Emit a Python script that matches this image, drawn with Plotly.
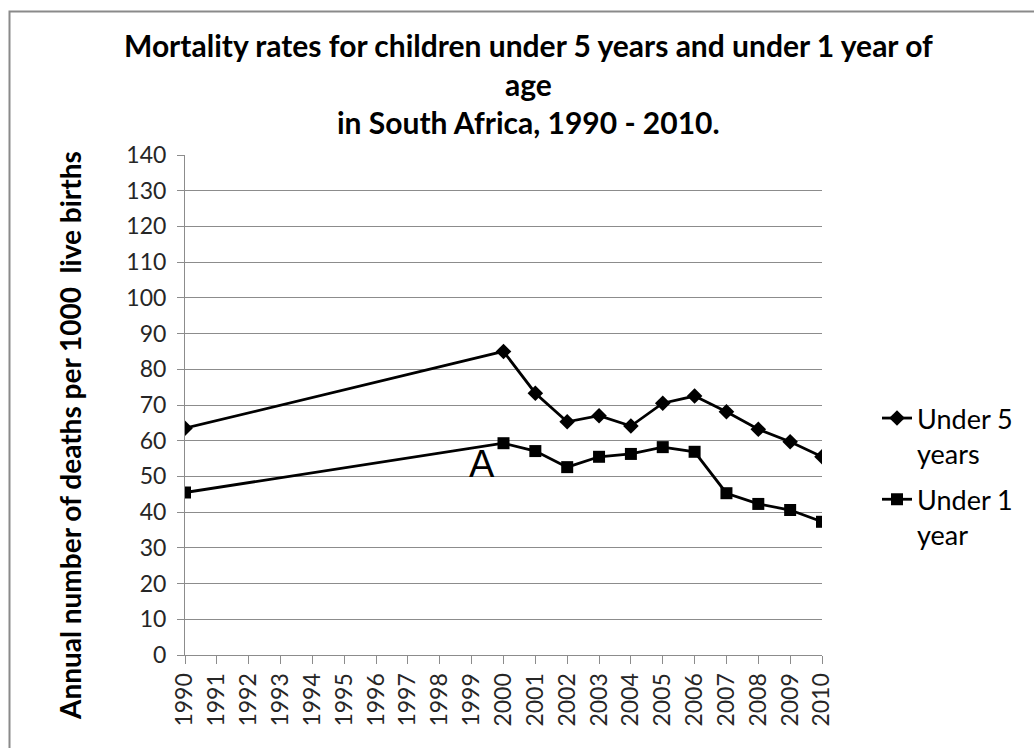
import plotly.graph_objects as go

# Child mortality, South Africa (deaths per 1000 live births)
years = [1990, 2000, 2001, 2002, 2003, 2004, 2005, 2006, 2007, 2008, 2009, 2010]
under5 = [63.5, 85, 73.3, 65.3, 67, 64.1, 70.5, 72.5, 68.1, 63.2, 59.7, 55.5]
under1 = [45.5, 59.3, 57.1, 52.6, 55.5, 56.3, 58.2, 56.9, 45.3, 42.3, 40.6, 37.3]
year_ticks = list(range(1990, 2011))

title_lines = [
    "Mortality rates for children under 5 years and under 1 year of",
    "age",
    "in South Africa, 1990 - 2010.",
]
y_title = "Annual number of deaths per 1000\u00a0 live births"

FONT = "Lato"
GRID = "#8c8c8c"
TEXT = "#262626"

fig = go.Figure()
fig.add_trace(go.Scatter(
    x=years, y=under5, mode="lines+markers", name="Under 5<br>years",
    legendgroup="u5",
    line=dict(color="black", width=2.8),
    marker=dict(symbol="diamond", size=12, color="black"),
))
fig.add_trace(go.Scatter(
    x=years, y=under1, mode="lines+markers", name="Under 1<br>year",
    legendgroup="u1",
    line=dict(color="black", width=2.8),
    marker=dict(symbol="square", size=12, color="black"),
))

W, H = 1034, 748
L, R, T, B = 185, 212, 155, 93


def px_x(px):
    return (px - L) / (W - L - R)


def px_y(py):
    return (H - B - py) / (H - T - B)


annotations = []
for text, py in zip(title_lines, [45, 84, 122]):
    annotations.append(dict(
        text=f"<b>{text}</b>", x=px_x(528), y=px_y(py), xref="paper", yref="paper",
        xanchor="center", yanchor="middle", showarrow=False,
        font=dict(family=FONT, size=30, color="black"),
    ))
annotations.append(dict(
    text=f"<b>{y_title}</b>", x=px_x(70), y=px_y(436), xref="paper", yref="paper",
    xanchor="center", yanchor="middle", textangle=-90, showarrow=False,
    font=dict(family=FONT, size=28, color="black"),
))
# Point label near the 2000 peak of the under-1 series
annotations.append(dict(
    text="A", x=1999.33, y=53.5, xref="x", yref="y", showarrow=False,
    xanchor="center", yanchor="middle",
    font=dict(family="Liberation Sans", size=38, color="black"),
))

fig.update_layout(
    width=W, height=H, autosize=False,
    margin=dict(l=L, r=R, t=T, b=B, pad=0),
    paper_bgcolor="white", plot_bgcolor="white",
    font=dict(family=FONT, color=TEXT),
    showlegend=True,
    legend=dict(
        x=px_x(877), y=px_y(394), xanchor="left", yanchor="top",
        font=dict(family=FONT, size=27, color="black"),
        valign="top", tracegroupgap=8, bgcolor="rgba(0,0,0,0)",
    ),
    annotations=annotations,
    shapes=[dict(
        type="rect", xref="paper", yref="paper",
        x0=px_x(9.5), x1=px_x(1100), y0=px_y(800), y1=px_y(11.5),
        line=dict(color="#8a8a8a", width=2), fillcolor="rgba(0,0,0,0)",
        layer="above",
    )],
)

fig.update_xaxes(
    range=[1990, 2010], tickmode="array", tickvals=year_ticks,
    ticktext=[str(y) for y in year_ticks], tickangle=-90,
    showgrid=False, zeroline=False, showline=True, linecolor=GRID, linewidth=1,
    ticks="outside", ticklen=8, tickcolor=GRID,
    tickfont=dict(family=FONT, size=23, color=TEXT),
)
fig.update_yaxes(
    range=[0, 140], dtick=10, tick0=0,
    showgrid=True, gridcolor=GRID, gridwidth=1, zeroline=False,
    showline=True, linecolor=GRID, linewidth=1,
    ticks="outside", ticklen=7, tickcolor=GRID, ticklabelstandoff=6,
    tickfont=dict(family=FONT, size=23, color=TEXT),
)

fig.write_html("out.html")
